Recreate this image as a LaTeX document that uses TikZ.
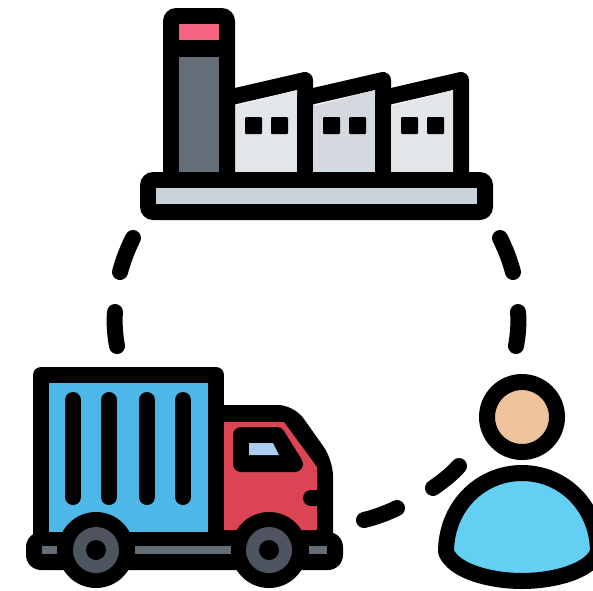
\documentclass[tikz,border=0pt]{standalone}
\definecolor{ink}{HTML}{000000}
\definecolor{towerc}{HTML}{656D78}
\definecolor{pinkc}{HTML}{F5647E}
\definecolor{wallA}{HTML}{E3E6E9}
\definecolor{wallB}{HTML}{D4D9E0}
\definecolor{basec}{HTML}{CAD2D9}
\definecolor{boxc}{HTML}{4DB8E8}
\definecolor{cabc}{HTML}{DA4453}
\definecolor{glassc}{HTML}{A9CDF3}
\definecolor{wheelc}{HTML}{4F5560}
\definecolor{greyc}{HTML}{656D78}
\definecolor{skinc}{HTML}{EEC39B}
\definecolor{bodyc}{HTML}{62CFF3}
\tikzset{
  outline/.style={draw=ink,line width=16pt,line join=round,line cap=round},
  dashseg/.style={draw=ink,line width=16pt,line cap=round},
  stripe/.style={draw=ink,line width=16pt,line cap=round},
}
\begin{document}
\begin{tikzpicture}[x=1pt,y=-1pt]
\useasboundingbox (0,0) rectangle (593,590);
\clip (0,0) rectangle (593,590);
\fill[white] (0,0) rectangle (593,590);

% factory
\foreach \xa/\col in {235/wallA,313/wallB,391/wallA}{
  \path[outline] (\xa-8,98) -- (\xa+70,80) -- (\xa+70,180) -- (\xa-8,180) -- cycle;
  \fill[\col] (\xa,106) -- (\xa+62,90) -- (\xa+62,172) -- (\xa,172) -- cycle;
  \fill[ink,rounded corners=1pt] (\xa+10,117) rectangle (\xa+27,134);
  \fill[ink,rounded corners=1pt] (\xa+36,117) rectangle (\xa+53,134);
}
\fill[ink,rounded corners=13pt] (163,8) rectangle (235,190);
\fill[pinkc] (179,24) rectangle (219,40);
\fill[towerc] (179,57) rectangle (219,172);
\fill[ink,rounded corners=13pt] (140,172) rectangle (493,220);
\fill[basec] (156,188) rectangle (477,204);

% dashes
\draw[dashseg] (133,238) .. controls (127,250) and (123,261) .. (120,272);
\draw[dashseg] (115,312) .. controls (114,323) and (115,335) .. (117,346);
\draw[dashseg] (500,238) .. controls (506,250) and (510,261) .. (513,272);
\draw[dashseg] (518,312) .. controls (519,323) and (518,335) .. (516,346);
\draw[dashseg] (364,520) .. controls (376,517) and (387,513) .. (397,508);
\draw[dashseg] (433,488) .. controls (443,481) and (452,474) .. (459,466);

% truck box
\path[outline,fill=boxc] (41,375) rectangle (216,540);
\foreach \x in {73,109,147,183}{ \draw[stripe] (\x,400) -- (\x,497); }
% cab
\fill[ink,rounded corners=16pt] (208,405) -- (294,405) -- (333,460) -- (333,548) -- (208,548) -- cycle;
\fill[cabc] (224,422) -- (284,422) -- (317,467) -- (317,530) -- (224,530) -- cycle;
\path[draw=ink,line width=16pt,line join=round,fill=ink] (241,435) -- (277,435) -- (295,464) -- (241,464) -- cycle;
\fill[glassc] (249,443) -- (273,443) -- (279,455) -- (249,455) -- cycle;
\draw[ink,line width=16pt,line cap=round] (311,498) -- (325,498);
% axle
\fill[ink,rounded corners=15pt] (26,532) rectangle (343,570);
\fill[greyc] (42,546) rectangle (57,554);
\fill[greyc] (135,546) rectangle (231,554);
\fill[greyc] (309,546) rectangle (327,554);
% wheels
\foreach \x in {96,269}{
  \fill[ink] (\x,550) circle (38);
  \fill[wheelc] (\x,550) circle (23);
  \fill[ink] (\x,550) circle (10);
}

% person
\path[outline,fill=skinc] (522,417) circle (35);
\path[outline,fill=bodyc] (446,552) .. controls (446,507) and (480,473) .. (522,473)
  .. controls (564,473) and (598,507) .. (598,552)
  .. controls (590,572) and (552,581) .. (522,581)
  .. controls (492,581) and (454,572) .. (446,552) -- cycle;
\end{tikzpicture}
\end{document}
